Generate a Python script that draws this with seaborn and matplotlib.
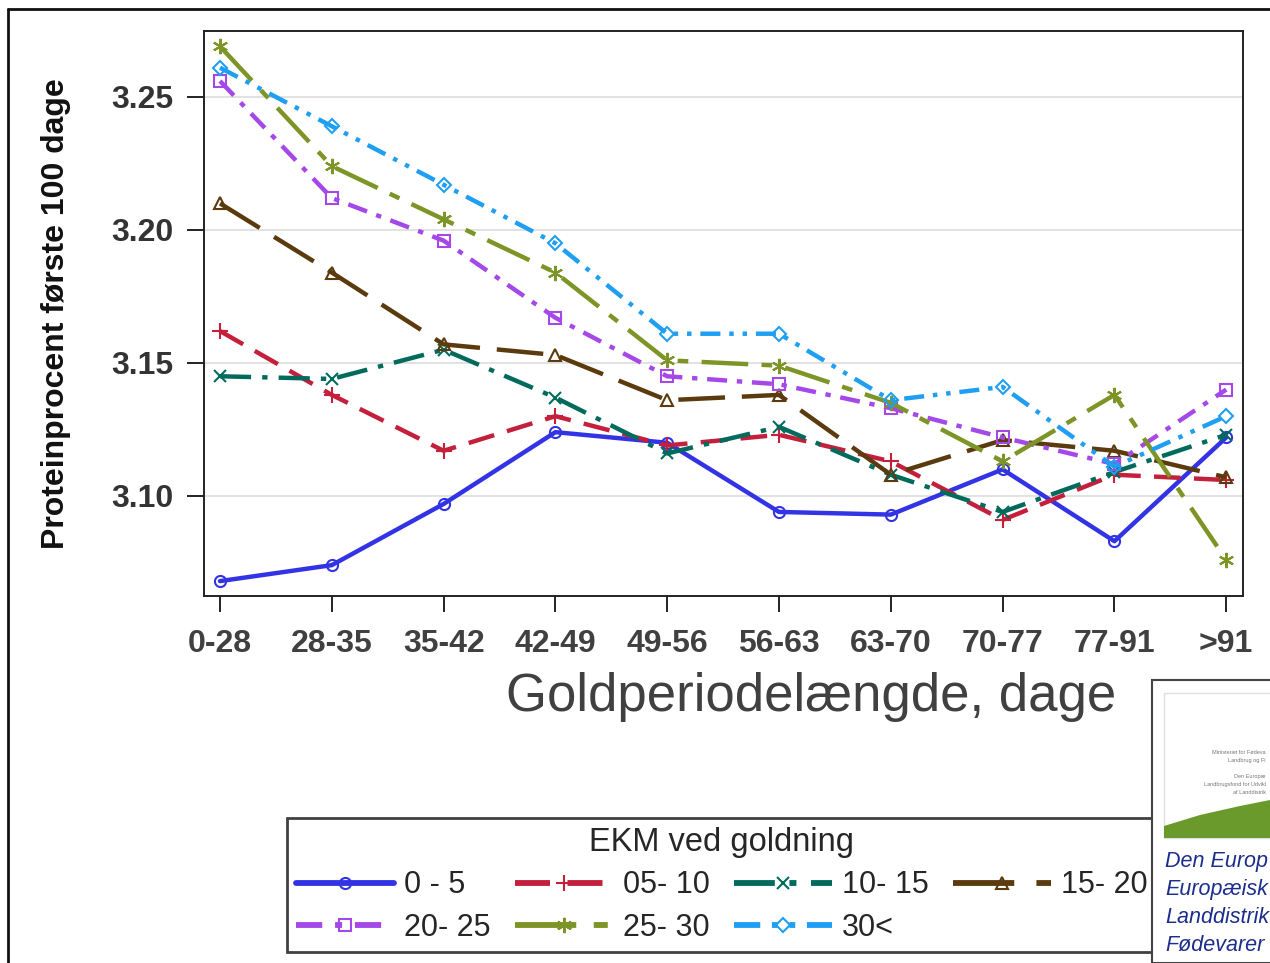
import numpy as np
import pandas as pd
import matplotlib
matplotlib.use("Agg")
import matplotlib.pyplot as plt
import matplotlib.patches as mpatches
from matplotlib.lines import Line2D
import seaborn as sns

# Values
periods = ["0-28", "28-35", "35-42", "42-49", "49-56", "56-63", "63-70", "70-77", "77-91", ">91"]
groups = ["0 - 5", "05- 10", "10- 15", "15- 20", "20- 25", "25- 30", "30<"]

ekm_0_5 = [3.068, 3.074, 3.097, 3.124, 3.120, 3.094, 3.093, 3.110, 3.083, 3.122]
ekm_05_10 = [3.162, 3.138, 3.117, 3.130, 3.119, 3.123, 3.113, 3.091, 3.108, 3.106]
ekm_10_15 = [3.145, 3.144, 3.155, 3.137, 3.116, 3.126, 3.108, 3.094, 3.109, 3.123]
ekm_15_20 = [3.210, 3.184, 3.157, 3.153, 3.136, 3.138, 3.108, 3.121, 3.117, 3.107]
ekm_20_25 = [3.256, 3.212, 3.196, 3.167, 3.145, 3.142, 3.133, 3.122, 3.112, 3.140]
ekm_25_30 = [3.269, 3.224, 3.204, 3.184, 3.151, 3.149, 3.135, 3.113, 3.138, 3.076]
ekm_30 = [3.261, 3.239, 3.217, 3.195, 3.161, 3.161, 3.136, 3.141, 3.111, 3.130]

yticks = [3.10, 3.15, 3.20, 3.25]

series = [ekm_0_5, ekm_05_10, ekm_10_15, ekm_15_20, ekm_20_25, ekm_25_30, ekm_30]
rows = []
for g, vals in zip(groups, series):
    for i, v in enumerate(vals):
        rows.append({"group": g, "pos": i, "value": v})
df = pd.DataFrame(rows)

colors = {"0 - 5": "#3333e6", "05- 10": "#c41f3b", "10- 15": "#006b5c",
          "15- 20": "#5b3a0d", "20- 25": "#a548e8", "25- 30": "#7d9426",
          "30<": "#1f9ff2"}
line_dashes = {"0 - 5": None, "05- 10": (6, 3), "10- 15": (7, 2.5, 1.2, 2.5),
               "15- 20": (10.5, 3.8), "20- 25": (4.5, 2.2, 1.2, 2.2),
               "25- 30": (10.5, 3, 2.4, 3), "30<": (4.5, 2, 1, 2, 1, 2)}
markers = {"0 - 5": "o", "05- 10": "+", "10- 15": "x", "15- 20": "^",
           "20- 25": "s", "25- 30": (6, 2, 0), "30<": "D"}
msizes = {"0 - 5": 8, "05- 10": 11, "10- 15": 9, "15- 20": 8,
          "20- 25": 8, "25- 30": 11, "30<": 7.5}

sns.set_style("ticks")
plt.rcParams["font.family"] = ["Liberation Sans", "DejaVu Sans"]

fig = plt.figure(figsize=(12.7, 9.63), dpi=100)
ax = fig.add_axes([204 / 1270, 1 - 596 / 963, 1039 / 1270, 565 / 963])

for g in groups:
    sub = df[df["group"] == g]
    ls = "-" if line_dashes[g] is None else (0, line_dashes[g])
    sns.lineplot(data=sub, x="pos", y="value", ax=ax, color=colors[g],
                 linewidth=3.2, linestyle=ls, marker=markers[g], markersize=msizes[g],
                 markerfacecolor="none", markeredgecolor=colors[g],
                 markeredgewidth=1.5, label=g, legend=False)

ax.set_xlim(-0.143, 9.15)
ax.set_ylim(3.0624, 3.2748)
ax.set_xticks(range(len(periods)))
ax.set_xticklabels(periods, fontsize=23, fontweight="bold", color="#404040")
ax.set_yticks(yticks)
ax.set_yticklabels([f"{t:.2f}" for t in yticks], fontsize=23, fontweight="bold", color="#333333")
ax.tick_params(axis="x", length=11.5, width=1.4, pad=12, color="#222222")
ax.tick_params(axis="y", length=12, width=1.4, pad=10, color="#222222")
ax.yaxis.grid(True, color="#dddddd", linewidth=1.2)
ax.set_axisbelow(True)
for sp in ax.spines.values():
    sp.set_visible(True)
    sp.set_linewidth(1.4)
    sp.set_color("#222222")
ax.set_xlabel("")
ax.set_ylabel("Proteinprocent første 100 dage", fontsize=23, fontweight="bold", color="#111111")
ax.yaxis.set_label_coords(-0.128, 0.5)

fig.text(811 / 1270, 1 - 697 / 963, "Goldperiodelængde, dage", fontsize=38,
         color="#404040", ha="center", va="center")

# outer frame
fig.add_artist(Line2D([8 / 1270, 1.0], [1 - 9 / 963, 1 - 9 / 963], color="#111111", lw=2))
fig.add_artist(Line2D([8 / 1270, 8 / 1270], [0.0, 1 - 9 / 963], color="#111111", lw=2))

# legend, row-major order over 4 columns
h, l = ax.get_legend_handles_labels()
order = [0, 4, 1, 5, 2, 6, 3]
leg = fig.legend([h[i] for i in order], [l[i] for i in order],
                 loc="upper left", bbox_to_anchor=(287 / 1270, 1 - 818 / 963),
                 ncol=4, fontsize=22, title="EKM ved goldning", title_fontsize=23.5,
                 frameon=True, fancybox=False, edgecolor="#111111",
                 handlelength=3.2, handletextpad=0.33, columnspacing=0.8,
                 borderpad=0.3, labelspacing=0.4, borderaxespad=0)
leg.get_frame().set_linewidth(2)
for lh in leg.legend_handles:
    lh.set_linewidth(4.2)

# partly visible logo box on the right
logo = mpatches.Rectangle((1152 / 1270, 0), 0.2, 1 - 680 / 963, transform=fig.transFigure,
                          facecolor="white", edgecolor="#444444", lw=1.5, zorder=10)
fig.add_artist(logo)
img = mpatches.Rectangle((1164 / 1270, 1 - 838 / 963), 0.2, 145 / 963, transform=fig.transFigure,
                         facecolor="white", edgecolor="#e0e0e0", lw=1, zorder=11)
fig.add_artist(img)
wedge = mpatches.Polygon([(1164 / 1270, 1 - 838 / 963), (1164 / 1270, 1 - 826 / 963),
                          (1200 / 1270, 1 - 815 / 963), (1240 / 1270, 1 - 806 / 963),
                          (1.0, 1 - 800 / 963), (1.0, 1 - 838 / 963)],
                         closed=True, transform=fig.transFigure, facecolor="#6a9a2c",
                         edgecolor="none", zorder=12)
fig.add_artist(wedge)
small = ["Ministeriet for Fødeva", "Landbrug og Fi", "",
         "Den Europæ", "Landbrugsfond for Udvikl", "af Landdistrik"]
for k, s in enumerate(small):
    if s:
        fig.text(1266 / 1270, 1 - (752 + k * 8) / 963, s, fontsize=4, color="#777777",
                 ha="right", va="center", zorder=13)
logo_lines = ["Den Europ", "Europæisk", "Landdistrik", "Fødevarer"]
for k, s in enumerate(logo_lines):
    fig.text(1165 / 1270, 1 - (861 + k * 28) / 963, s, fontsize=15.5, style="italic",
             color="#1c2e8c", ha="left", va="center", zorder=13)

fig.savefig("out.png", dpi=100)
